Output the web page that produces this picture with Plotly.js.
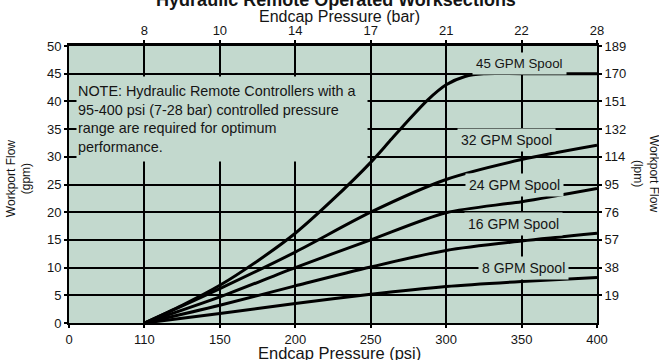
<!DOCTYPE html>
<html>
<head>
<meta charset="utf-8">
<script src="https://cdn.plot.ly/plotly-3.0.1.min.js"></script>
<style>html,body{margin:0;padding:0;background:#fff}#chart{width:659px;height:360px}</style>
</head>
<body>
<div id="chart"></div>
<script>
// ---- data ----
const psiTicks = [0, 110, 150, 200, 250, 300, 350, 400];
const barTicks = ['8', '10', '14', '17', '21', '22', '28'];
const gpmTicks = [0, 5, 10, 15, 20, 25, 30, 35, 40, 45, 50];
const lpmTicks = ['19', '38', '57', '76', '95', '114', '132', '151', '170', '189'];

const psi45 = [110, 130, 150, 175, 200, 225, 250, 262.5, 275, 287.5, 300, 312.5, 325, 350, 400];
const gpm45 = [0, 3.2, 6.8, 11.2, 16.2, 22.3, 29.0, 32.8, 36.6, 40.2, 43, 44.5, 45, 45, 45];

const psiStd = [110, 150, 200, 250, 300, 350, 400];
const gpm32 = [0, 6.2, 12.8, 20, 25.9, 29.5, 32.1];
const gpm24 = [0, 4.7, 10, 15, 19.9, 21.9, 24.3];
const gpm16 = [0, 3.2, 6.7, 10.1, 13.1, 14.8, 16.2];
const gpm8  = [0, 1.7, 3.5, 5.2, 6.6, 7.5, 8.2];

const spoolNames = ['45 GPM Spool', '32 GPM Spool', '24 GPM Spool', '16 GPM Spool', '8 GPM Spool'];

const noteText = 'NOTE: Hydraulic Remote Controllers with a<br>95-400 psi (7-28 bar) controlled pressure<br>range are required for optimum<br>performance.';

// ---- psi -> evenly spaced tick axis position ----
function toIdx(p) {
  for (let i = 0; i < psiTicks.length - 1; i++) {
    if (p <= psiTicks[i + 1]) {
      return i + (p - psiTicks[i]) / (psiTicks[i + 1] - psiTicks[i]);
    }
  }
  return psiTicks.length - 1;
}

const FONT = 'Liberation Sans, Arial, sans-serif';
const BG = '#c3d9ce';
const INK = '#151515';

function curve(psi, gpm, name) {
  return {
    x: psi.map(toIdx), y: gpm, name: name, type: 'scatter', mode: 'lines',
    line: {color: '#000', width: 3, shape: 'spline', smoothing: 0.8},
    hoverinfo: 'x+y', xaxis: 'x', yaxis: 'y'
  };
}

const traces = [
  curve(psi45, gpm45, spoolNames[0]),
  curve(psiStd, gpm32, spoolNames[1]),
  curve(psiStd, gpm24, spoolNames[2]),
  curve(psiStd, gpm16, spoolNames[3]),
  curve(psiStd, gpm8, spoolNames[4]),
  // invisible helper trace to activate secondary axes
  {x: [0, psiTicks.length - 1], y: [0, 50], xaxis: 'x2', yaxis: 'y2', mode: 'markers',
   marker: {opacity: 0}, hoverinfo: 'skip', showlegend: false}
];

const nIdx = psiTicks.length - 1;
const spoolPos = [[5.97, 46.8, 13.3], [5.80, 33.1, 14], [5.906, 25, 14], [5.89, 17.8, 14], [6.02, 10, 14]];

const annotations = spoolNames.map((t, i) => ({
  text: t, x: spoolPos[i][0], y: spoolPos[i][1], xref: 'x', yref: 'y',
  showarrow: false, bgcolor: BG, borderpad: 3,
  font: {family: FONT, size: spoolPos[i][2], color: INK}
}));

annotations.push({
  text: noteText, xref: 'paper', yref: 'paper', x: 0.0135, y: 0.8917,
  xanchor: 'left', yanchor: 'top', width: 288, height: 82, align: 'left', valign: 'middle',
  showarrow: false, bgcolor: BG, borderpad: 1,
  font: {family: FONT, size: 14.4, color: INK}
});
annotations.push({
  text: 'Endcap Pressure (bar)', xref: 'paper', yref: 'paper', x: 0.513, y: 1.108,
  xanchor: 'center', yanchor: 'middle', showarrow: false,
  font: {family: FONT, size: 16, color: INK}
});
annotations.push({
  text: 'Endcap Pressure (psi)', xref: 'paper', yref: 'paper', x: 0.513, y: -0.109,
  xanchor: 'center', yanchor: 'middle', showarrow: false,
  font: {family: FONT, size: 16.5, color: INK}
});
annotations.push({
  text: 'Workport Flow<br>(gpm)', xref: 'paper', yref: 'paper', x: -0.0947, y: 0.523,
  xanchor: 'center', yanchor: 'middle', textangle: -90, showarrow: false,
  font: {family: FONT, size: 12, color: INK}
});
annotations.push({
  text: 'Workport Flow<br>(lpm)', xref: 'paper', yref: 'paper', x: 1.0928, y: 0.538,
  xanchor: 'center', yanchor: 'middle', textangle: 90, showarrow: false,
  font: {family: FONT, size: 12, color: INK}
});

const tickFont = {family: FONT, size: 13, color: INK};
const idxVals = psiTicks.map((_, i) => i);

const layout = {
  width: 659, height: 360,
  margin: {l: 69, r: 62, t: 46, b: 37, pad: 0},
  paper_bgcolor: '#ffffff', plot_bgcolor: BG,
  showlegend: false,
  title: {
    text: '<b>Hydraulic Remote Operated Worksections</b>',
    xref: 'paper', x: 0.5057, xanchor: 'center',
    yref: 'container', y: 1.0, yanchor: 'middle',
    font: {family: FONT, size: 18, color: INK}
  },
  xaxis: {
    range: [0, nIdx], tickvals: idxVals, ticktext: psiTicks.map(String),
    showgrid: true, gridcolor: '#000', gridwidth: 2, zeroline: false,
    showline: true, linecolor: '#000', linewidth: 2,
    ticks: 'outside', ticklen: 3, tickcolor: '#000', tickwidth: 2,
    tickfont: tickFont, fixedrange: true
  },
  xaxis2: {
    overlaying: 'x', side: 'top', range: [0, nIdx],
    tickvals: idxVals.slice(1), ticktext: barTicks,
    showgrid: false, zeroline: false,
    showline: true, linecolor: '#000', linewidth: 3,
    ticks: 'outside', ticklen: 3, tickcolor: '#000', tickwidth: 2,
    tickfont: tickFont, fixedrange: true
  },
  yaxis: {
    range: [0, 50], tickvals: gpmTicks, ticktext: gpmTicks.map(String),
    showgrid: true, gridcolor: '#000', gridwidth: 2, zeroline: false,
    showline: true, linecolor: '#000', linewidth: 2,
    ticks: 'outside', ticklen: 3, tickcolor: '#000', tickwidth: 2,
    tickfont: tickFont, fixedrange: true
  },
  yaxis2: {
    overlaying: 'y', side: 'right', range: [0, 50],
    tickvals: gpmTicks.slice(1), ticktext: lpmTicks,
    showgrid: false, zeroline: false,
    showline: true, linecolor: '#000', linewidth: 2,
    ticks: 'outside', ticklen: 3, tickcolor: '#000', tickwidth: 2,
    tickfont: tickFont, fixedrange: true
  },
  annotations: annotations
};

Plotly.newPlot('chart', traces, layout, {displayModeBar: false, staticPlot: true});
</script>
</body>
</html>
